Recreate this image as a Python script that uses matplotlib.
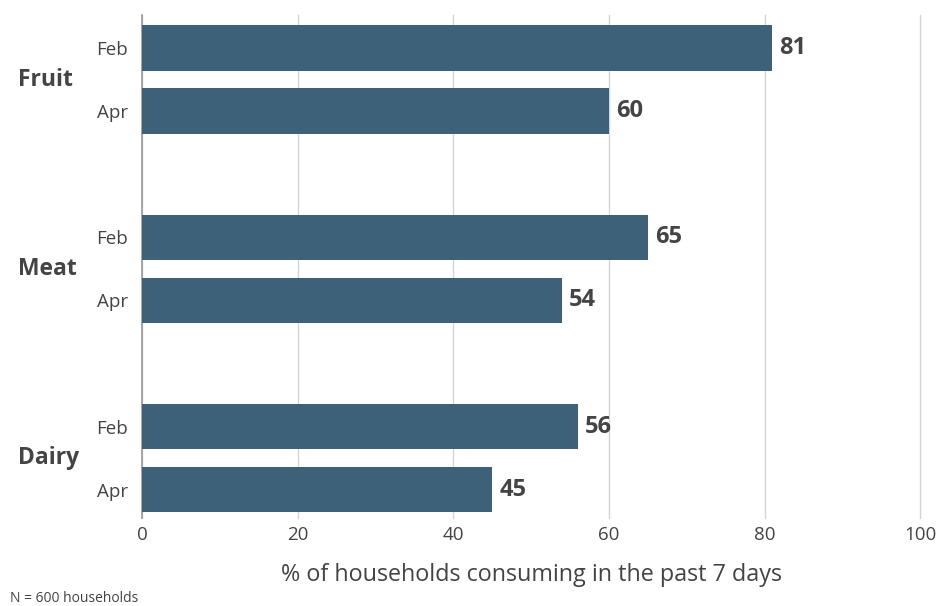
import numpy as np
import matplotlib.pyplot as plt

plt.rcParams['font.family'] = ['Open Sans', 'DejaVu Sans']

categories = ["Fruit", "Meat", "Dairy"]
months = ["Feb", "Apr"]
feb = [81, 65, 56]
apr = [60, 54, 45]

bar_color = "#3d6179"
text_color = "#444444"

fig = plt.figure(figsize=(9.4, 6.06), dpi=100)
ax = fig.add_axes([0.151, 0.145, 0.828, 0.83])

group_pos = np.arange(len(categories)) * 3
y_feb = group_pos
y_apr = group_pos + 1

ax.barh(y_feb, feb, height=0.72, color=bar_color, zorder=3)
ax.barh(y_apr, apr, height=0.72, color=bar_color, zorder=3)

for y, v in zip(np.concatenate([y_feb, y_apr]), feb + apr):
    ax.text(v + 0.9, y, f"{v}", va="center", ha="left", fontsize=17,
            fontweight="bold", color=text_color)

ax.set_yticks(np.concatenate([y_feb, y_apr]))
ax.set_yticklabels(months[:1] * len(categories) + months[1:] * len(categories),
                   fontsize=13.5, color=text_color)
ax.tick_params(axis="y", length=0, pad=10)

for y, cat in zip(group_pos + 0.5, categories):
    ax.text(-0.159, y, cat, transform=ax.get_yaxis_transform(), ha="left",
            va="center", fontsize=16.5, fontweight="bold", color=text_color)

ax.set_xlim(0, 100)
ax.set_ylim(7.45, -0.52)
ax.set_xticks(range(0, 101, 20))
ax.tick_params(axis="x", length=0, labelsize=13.5, labelcolor=text_color, pad=6)
ax.grid(axis="x", color="#d4d4d4", linewidth=1, zorder=0)
for gl in ax.get_xgridlines():
    gl.set_clip_on(False)
ax.set_xlabel("% of households consuming in the past 7 days", fontsize=16.8,
              color=text_color, labelpad=13)

for s in ["top", "right", "bottom"]:
    ax.spines[s].set_visible(False)
ax.spines["left"].set_color("#999999")
ax.spines["left"].set_linewidth(1.2)

fig.text(0.011, 0.006, "N = 600 households", fontsize=10, color=text_color)

fig.savefig("out.png", dpi=100)
